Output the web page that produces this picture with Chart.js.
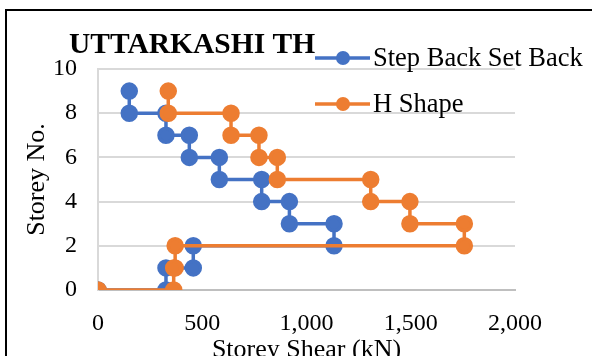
<!DOCTYPE html>
<html>
<head>
<meta charset="utf-8">
<script src="https://cdn.jsdelivr.net/npm/chart.js@4.4.1/dist/chart.umd.min.js"></script>
<style>
  html, body { margin: 0; padding: 0; background: #fff; overflow: hidden; }
  #wrap { position: relative; width: 592px; height: 356px; overflow: hidden; }
  #frame { position: absolute; left: 5px; top: 9px; width: 700px; height: 500px; border: 2px solid #000; box-sizing: border-box; }
  #myChart { position: absolute; left: 0; top: 0; }
</style>
</head>
<body>
<div id="wrap">
  <div id="frame"></div>
  <canvas id="myChart" width="592" height="380"></canvas>
</div>
<script>
const chartTitle = "UTTARKASHI TH";
const seriesNames = ["Step Back Set Back", "H Shape"];
const seriesColors = ["#4472C4", "#ED7D31"];

// storey shear (kN) against storey no., step profile
const stepBackShear = [150, 150, 326, 326, 438, 438, 582, 582, 785, 785, 918, 918, 1132, 1132, 457, 457, 326, 326, 0];
const stepBackStorey = [9, 8, 8, 7, 7, 6, 6, 5, 5, 4, 4, 3, 3, 2, 2, 1, 1, 0, 0];
const hShapeShear = [337, 337, 638, 638, 772, 772, 860, 860, 1308, 1308, 1496, 1496, 1757, 1757, 370, 370, 363, 363, 0];
const hShapeStorey = [9, 8, 8, 7, 7, 6, 6, 5, 5, 4, 4, 3, 3, 2, 2, 1, 1, 0, 0];

const xTicks = [0, 500, 1000, 1500, 2000];
const yTicks = [0, 2, 4, 6, 8, 10];

function pts(xs, ys) {
    return xs.map((x, i) => ({ x: x, y: ys[i] }));
}

const serif = "'Liberation Serif', 'Times New Roman', serif";

// title + legend drawn over the plot like the excel chart
const overlay = {
    id: 'overlay',
    afterDraw(chart) {
        const ctx = chart.ctx;
        ctx.save();
        ctx.fillStyle = '#000';
        ctx.font = 'bold 29.5px ' + serif;
        ctx.textBaseline = 'middle';
        ctx.textAlign = 'left';
        ctx.fillText(chartTitle, 69, 45);

        const rows = [58, 104];
        chart.data.datasets.forEach((ds, i) => {
            const y = rows[i];
            ctx.strokeStyle = ds.borderColor;
            ctx.lineWidth = 3.5;
            ctx.beginPath();
            ctx.moveTo(315, y);
            ctx.lineTo(370, y);
            ctx.stroke();
            ctx.fillStyle = ds.backgroundColor;
            ctx.beginPath();
            ctx.arc(343, y, 7, 0, Math.PI * 2);
            ctx.fill();
            ctx.fillStyle = '#000';
            ctx.font = '26.5px ' + serif;
            ctx.fillText(ds.label, 373, y + 1);
        });
        ctx.restore();
    }
};

const myChart = new Chart(document.getElementById('myChart'), {
    type: 'scatter',
    data: {
        datasets: [{
            label: seriesNames[0],
            data: pts(stepBackShear, stepBackStorey),
            showLine: true,
            borderColor: seriesColors[0],
            backgroundColor: seriesColors[0],
            borderWidth: 3.5,
            pointRadius: 7,
            pointHoverRadius: 7,
            order: 2
        }, {
            label: seriesNames[1],
            data: pts(hShapeShear, hShapeStorey),
            showLine: true,
            borderColor: seriesColors[1],
            backgroundColor: seriesColors[1],
            borderWidth: 3.5,
            pointRadius: 7,
            pointHoverRadius: 7,
            order: 1
        }]
    },
    options: {
        responsive: false,
        animation: false,
        layout: { padding: { left: 0, top: 69, right: 77, bottom: 0 } },
        plugins: {
            legend: { display: false },
            title: { display: false },
            tooltip: { enabled: false }
        },
        scales: {
            x: {
                type: 'linear',
                min: 0,
                max: 2000,
                afterBuildTicks: (s) => { s.ticks = xTicks.map(v => ({ value: v })); },
                afterFit: (s) => { s.height = 90; },
                grid: { display: false, drawTicks: false },
                border: { color: '#bfbfbf', width: 2 },
                ticks: {
                    color: '#000',
                    padding: 19,
                    font: { family: serif, size: 24 },
                    callback: (v) => v.toLocaleString('en-US')
                },
                title: {
                    display: true,
                    text: 'Storey Shear (kN)',
                    color: '#000',
                    font: { family: serif, size: 26 },
                    padding: { top: 0, bottom: 14 }
                }
            },
            y: {
                min: 0,
                max: 10,
                afterBuildTicks: (s) => { s.ticks = yTicks.map(v => ({ value: v })); },
                afterFit: (s) => { s.width = 98; },
                grid: { color: '#d9d9d9', lineWidth: 2, drawTicks: false },
                border: { color: '#d9d9d9', width: 2 },
                ticks: {
                    color: '#000',
                    padding: 21,
                    font: { family: serif, size: 24 }
                },
                title: {
                    display: true,
                    text: 'Storey No.',
                    color: '#000',
                    font: { family: serif, size: 26 },
                    padding: { top: 22, bottom: 0 }
                }
            }
        }
    },
    plugins: [overlay]
});
</script>
</body>
</html>
